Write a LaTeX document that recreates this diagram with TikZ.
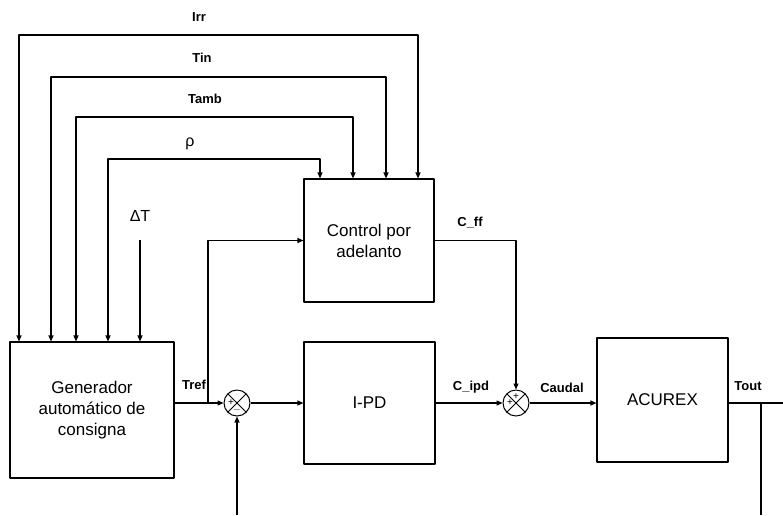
\documentclass[tikz,border=0pt]{standalone}
\usepackage{fontspec}
\setmainfont{Liberation Sans}
\usetikzlibrary{arrows.meta,positioning}
\tikzset{
  blk/.style={draw,line width=1.1pt,align=center,inner sep=0pt,font=\fontsize{17}{21}\selectfont},
  sumj/.style={draw,circle,line width=1pt,minimum size=26pt,inner sep=0pt,
    path picture={\draw[line width=0.8pt] (path picture bounding box.north west) -- (path picture bounding box.south east)
      (path picture bounding box.south west) -- (path picture bounding box.north east);}},
  sgn/.style={inner sep=0pt,font=\fontsize{10}{10}\selectfont},
  lbl/.style={inner sep=0pt,font=\fontsize{13}{13}\selectfont\bfseries},
  glbl/.style={inner sep=0pt,font=\fontsize{16}{16}\selectfont},
  sig/.style={line width=1.1pt}
}

\begin{document}
\begin{tikzpicture}[x=1pt,y=-1pt,>={Triangle[length=6pt,width=5pt]},line join=round]
\useasboundingbox (0,0) rectangle (783,515);
% --- blocks
\node[blk,minimum width=164pt,minimum height=136pt] (gen) at (92,410) {Generador\\automático de\\consigna};
\node[blk,minimum width=130pt,minimum height=123pt] (ctrl) at (369,240.5) {Control por\\adelanto};
\node[blk,minimum width=131pt,minimum height=122pt] (ipd) at (369.5,403) {I-PD};
\node[blk,minimum width=131pt,minimum height=124pt] (acx) at (662.5,400) {ACUREX};
% --- summing junctions
\node[sumj] (s1) at (237,403) {};
\node[sgn] (s1a) at ([xshift=-6pt]s1.center) {+};
\node[sgn] (s1b) at ([yshift=-7pt]s1.center) {$-$};
\node[sumj] (s2) at (516,403) {};
\node[sgn] (s2a) at ([xshift=-6pt]s2.center) {+};
\node[sgn] (s2b) at ([yshift=6pt]s2.center) {+};
% --- measured inputs, to both blocks
\coordinate (irrA) at (19,35);  \coordinate (irrB) at (418,35);
\coordinate (tinA) at (51,77);  \coordinate (tinB) at (386,77);
\coordinate (tamA) at (76,117); \coordinate (tamB) at (353,117);
\coordinate (rhoA) at (108,159); \coordinate (rhoB) at (320,159);
\draw[sig,<->] (gen.north -| irrA) -- (irrA) -- (irrB) -- (ctrl.north -| irrB);
\draw[sig,<->] (gen.north -| tinA) -- (tinA) -- (tinB) -- (ctrl.north -| tinB);
\draw[sig,<->] (gen.north -| tamA) -- (tamA) -- (tamB) -- (ctrl.north -| tamB);
\draw[sig,<->] (gen.north -| rhoA) -- (rhoA) -- (rhoB) -- (ctrl.north -| rhoB);
\node[lbl] (irr) at (199,17) {Irr};
\node[lbl] (tin) at (202,58) {Tin};
\node[lbl] (tamb) at (205,99) {Tamb};
\node[glbl] (rho) at (190,144) {ρ};
\coordinate (dT) at (140,240);
\draw[sig,->] (dT) -- (gen.north -| dT);
\node[glbl] (dTl) at (140,216) {ΔT};
% --- main loop
\coordinate (tb) at (208,403);
\draw[sig,->] (gen.east |- s1) -- (s1.west);
\draw[sig,->] (tb) |- (ctrl.west);
\draw[sig,->] (s1.east) -- (ipd.west);
\draw[sig,->] (ipd.east) -- (s2.west);
\draw[sig,->] (ctrl.east) -| (s2.north);
\draw[sig,->] (s2.east) -- (acx.west |- s2);
\coordinate (out) at (783,403);
\draw[sig] (acx.east |- s2) -- (out);
\coordinate (fb) at (761,403); \coordinate (fbEnd) at (761,515);
\draw[sig] (fb) -- (fbEnd);
\coordinate (fbIn) at (237,515);
\draw[sig,->] (fbIn) -- (s1.south);
\node[lbl] (tref) at (194,385) {Tref};
\node[lbl] (cff) at (470,223) {C\_ff};
\node[lbl] (cipd) at (471,387) {C\_ipd};
\node[lbl] (caudal) at (562,388) {Caudal};
\node[lbl] (tout) at (748,386) {Tout};
\end{tikzpicture}
\end{document}
